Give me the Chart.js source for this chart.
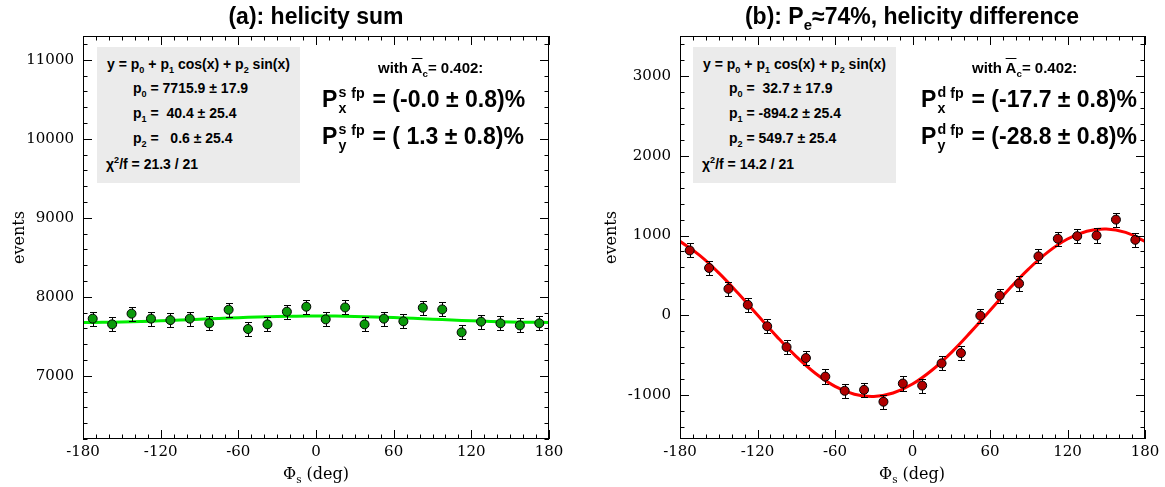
<!DOCTYPE html>
<html>
<head>
<meta charset="utf-8">
<script src="https://cdn.jsdelivr.net/npm/chart.js@4.4.1/dist/chart.umd.min.js"></script>
<style>
  body { margin: 0; background: #fff; }
  #wrap { position: relative; width: 1165px; height: 487px; overflow: hidden; background: #fff; }
  canvas { position: absolute; top: 0; }
  .t { position: absolute; font-family: "Liberation Sans", Arial, sans-serif; font-weight: bold; color: #000; white-space: pre; line-height: 1; }
  .title { font-size: 23px; text-align: center; width: 500px; }
  .box { position: absolute; background: #ebebeb; }
  .sm { font-size: 14px; }
  .mid { font-size: 15px; }
  .big { font-size: 23px; }
  .ax { position: absolute; font-family: "DejaVu Serif", serif; font-size: 16px; text-align: center; width: 200px; line-height: 1; white-space: pre; }
  sub, sup { font-size: 65%; line-height: 0; }
  .ov { text-decoration: overline; }
  .ss { display: inline-block; position: relative; width: 0.45em; height: 1em; vertical-align: top; }
  .ss i { position: absolute; left: 0.08em; font-style: normal; font-size: 0.62em; }
  .ss .u { top: -0.22em; }
  .ss .d { top: 0.9em; }
  .fp { font-size: 0.62em; position: relative; top: -0.65em; margin-left: 0.25em; margin-right: 0.1em; }
</style>
</head>
<body>
<div id="wrap">
  <canvas id="sumChart" width="582" height="487" style="left:0"></canvas>
  <canvas id="diffChart" width="583" height="487" style="left:582px"></canvas>

  <!-- (a) 左圖文字 -->
  <div class="t title" style="left:66px;top:5px">(a): helicity sum</div>
  <div class="box" style="left:97px;top:47px;width:203px;height:136px"></div>
  <div class="t sm" style="left:97px;top:57px;width:203px;text-align:center">y = p<sub>0</sub> + p<sub>1</sub> cos(x) + p<sub>2</sub> sin(x)</div>
  <div class="t sm" style="left:133px;top:81px">p<sub>0</sub> = 7715.9 ± 17.9</div>
  <div class="t sm" style="left:133px;top:106px">p<sub>1</sub> =  40.4 ± 25.4</div>
  <div class="t sm" style="left:133px;top:131px">p<sub>2</sub> =   0.6 ± 25.4</div>
  <div class="t sm" style="left:106px;top:157px">χ<sup>2</sup>/f = 21.3 / 21</div>
  <div class="t mid" style="left:378px;top:60px">with <span class="ov">A</span><sub>c</sub>= 0.402:</div>
  <div class="t big" style="left:322px;top:88px">P<span class="ss"><i class="u">s</i><i class="d">x</i></span><span class="fp">fp</span> = (-0.0 ± 0.8)%</div>
  <div class="t big" style="left:322px;top:125px">P<span class="ss"><i class="u">s</i><i class="d">y</i></span><span class="fp">fp</span> = ( 1.3 ± 0.8)%</div>
  <div class="ax" style="left:216px;top:466px">Φ<sub>s</sub> (deg)</div>

  <!-- (b) 右圖文字 -->
  <div class="t title" style="left:662px;top:5px">(b): P<sub>e</sub>≈74%, helicity difference</div>
  <div class="box" style="left:693px;top:47px;width:203px;height:136px"></div>
  <div class="t sm" style="left:693px;top:57px;width:203px;text-align:center">y = p<sub>0</sub> + p<sub>1</sub> cos(x) + p<sub>2</sub> sin(x)</div>
  <div class="t sm" style="left:729px;top:81px">p<sub>0</sub> =  32.7 ± 17.9</div>
  <div class="t sm" style="left:729px;top:106px">p<sub>1</sub> = -894.2 ± 25.4</div>
  <div class="t sm" style="left:729px;top:131px">p<sub>2</sub> = 549.7 ± 25.4</div>
  <div class="t sm" style="left:702px;top:157px">χ<sup>2</sup>/f = 14.2 / 21</div>
  <div class="t mid" style="left:972px;top:60px">with <span class="ov">A</span><sub>c</sub>= 0.402:</div>
  <div class="t big" style="left:921px;top:88px">P<span class="ss"><i class="u">d</i><i class="d">x</i></span><span class="fp">fp</span> = (-17.7 ± 0.8)%</div>
  <div class="t big" style="left:921px;top:125px">P<span class="ss"><i class="u">d</i><i class="d">y</i></span><span class="fp">fp</span> = (-28.8 ± 0.8)%</div>
  <div class="ax" style="left:812px;top:466px">Φ<sub>s</sub> (deg)</div>
</div>

<script>
// Φs 分箱中心 (deg)
const phiBins = [-172.5, -157.5, -142.5, -127.5, -112.5, -97.5, -82.5, -67.5, -52.5, -37.5, -22.5, -7.5,
                 7.5, 22.5, 37.5, 52.5, 67.5, 82.5, 97.5, 112.5, 127.5, 142.5, 157.5, 172.5];

// (a) helicity sum
const sumCounts = [7723, 7651, 7786, 7723, 7705, 7723, 7664, 7836, 7592, 7651, 7811, 7874,
                   7714, 7865, 7651, 7723, 7689, 7861, 7840, 7550, 7685, 7664, 7638, 7664];
const sumErrors = [88, 87, 88, 88, 88, 88, 88, 89, 87, 87, 88, 89,
                   88, 89, 87, 88, 88, 89, 89, 87, 88, 88, 87, 88];

// (b) helicity difference
const diffCounts = [813, 593, 332, 131, -137, -398, -535, -768, -946, -934, -1083, -855,
                    -880, -602, -473, -4, 247, 398, 739, 959, 992, 1000, 1199, 946];
const diffErrors = [88, 87, 88, 88, 88, 88, 88, 89, 87, 87, 88, 89,
                    88, 89, 87, 88, 88, 89, 89, 87, 88, 88, 87, 88];

// 擬合曲線取樣點
const fitPhi = [-180, -165, -150, -135, -120, -105, -90, -75, -60, -45, -30, -15, 0,
                15, 30, 45, 60, 75, 90, 105, 120, 135, 150, 165, 180];
const fitSum = [7675.5, 7676.7, 7680.6, 7686.9, 7695.2, 7704.9, 7715.3, 7725.8, 7735.6, 7744.0, 7750.6, 7754.8, 7756.3,
                7755.1, 7751.2, 7744.9, 7736.6, 7726.9, 7716.5, 7706.0, 7696.2, 7687.8, 7681.2, 7677.0, 7675.5];
const fitDiff = [926.9, 754.1, 532.2, 276.3, 3.8, -266.9, -517.0, -729.7, -890.4, -988.3, -1016.6, -973.3, -861.5,
                 -688.7, -466.8, -210.9, 61.6, 332.3, 582.4, 795.1, 955.8, 1053.7, 1082.0, 1038.7, 926.9];

// 刻度
const xTicks = [-180, -120, -60, 0, 60, 120, 180];
const sumYTicks = [7000, 8000, 9000, 10000, 11000];
const diffYTicks = [-1000, 0, 1000, 2000, 3000];

// 誤差棒
const errorBars = {
    id: 'errorBars',
    beforeDatasetDraw(chart, args) {
        const ds = chart.data.datasets[args.index];
        if (!ds.errors) return;
        const y = chart.scales.y;
        const ctx = chart.ctx;
        ctx.save();
        ctx.strokeStyle = '#000';
        ctx.lineWidth = 1;
        ctx.beginPath();
        args.meta.data.forEach((pt, i) => {
            const v = ds.data[i].y, e = ds.errors[i];
            const top = Math.round(y.getPixelForValue(v + e)) + 0.5;
            const bot = Math.round(y.getPixelForValue(v - e)) + 0.5;
            const px = Math.round(pt.x) + 0.5;
            ctx.moveTo(px, top); ctx.lineTo(px, bot);
            ctx.moveTo(px - 3.5, top); ctx.lineTo(px + 3.5, top);
            ctx.moveTo(px - 3.5, bot); ctx.lineTo(px + 3.5, bot);
        });
        ctx.stroke();
        ctx.restore();
    }
};

// ROOT 風格外框與內向刻度
const frameTicks = {
    id: 'frameTicks',
    afterDraw(chart) {
        const { ctx, chartArea: a, scales: { x, y } } = chart;
        ctx.save();
        ctx.strokeStyle = '#000';
        ctx.lineWidth = 1;
        ctx.beginPath();
        for (let v = x.min; v <= x.max; v += 10) {
            const px = Math.round(x.getPixelForValue(v)) + 0.5;
            const len = v % 60 === 0 ? 9 : 4.5;
            ctx.moveTo(px, a.bottom); ctx.lineTo(px, a.bottom - len);
            ctx.moveTo(px, a.top); ctx.lineTo(px, a.top + len);
        }
        for (let v = Math.ceil(y.min / 200) * 200; v <= y.max; v += 200) {
            const py = Math.round(y.getPixelForValue(v)) + 0.5;
            const len = v % 1000 === 0 ? 9 : 4.5;
            ctx.moveTo(a.left, py); ctx.lineTo(a.left + len, py);
            ctx.moveTo(a.right, py); ctx.lineTo(a.right - len, py);
        }
        ctx.stroke();
        ctx.strokeRect(Math.round(a.left) + 0.5, Math.round(a.top) + 0.5,
                       Math.round(a.width) - 1, Math.round(a.height) - 1);
        ctx.restore();
    }
};

function makeChart(id, counts, errors, fitVals, pointColor, lineColor, yMin, yMax, yTicks, pad, yWidth) {
    const ctx = document.getElementById(id).getContext('2d');
    const tickFont = { family: 'DejaVu Serif', size: 15 };
    return new Chart(ctx, {
        type: 'scatter',
        data: {
            datasets: [{
                data: phiBins.map((p, i) => ({ x: p, y: counts[i] })),
                errors: errors,
                backgroundColor: pointColor,
                borderColor: '#000',
                borderWidth: 1,
                pointRadius: 4.5,
                pointHoverRadius: 4.5
            }, {
                type: 'line',
                data: fitPhi.map((p, i) => ({ x: p, y: fitVals[i] })),
                borderColor: lineColor,
                borderWidth: 3,
                pointRadius: 0,
                fill: false,
                tension: 0.4
            }]
        },
        options: {
            responsive: false,
            animation: false,
            events: [],
            layout: { padding: pad },
            plugins: { legend: { display: false }, tooltip: { enabled: false } },
            scales: {
                x: {
                    type: 'linear', min: -180, max: 180,
                    grid: { display: false, drawTicks: false },
                    border: { display: false },
                    ticks: { color: '#000', font: tickFont, padding: 4, maxRotation: 0, callback: v => v },
                    afterBuildTicks: s => { s.ticks = xTicks.map(v => ({ value: v })); },
                    afterFit: s => { s.height = 48; }
                },
                y: {
                    min: yMin, max: yMax,
                    grid: { display: false, drawTicks: false },
                    border: { display: false },
                    ticks: { color: '#000', font: tickFont, padding: 9, callback: v => v },
                    afterBuildTicks: s => { s.ticks = yTicks.map(v => ({ value: v })); },
                    afterFit: s => { s.width = yWidth; },
                    title: { display: true, text: 'events', color: '#000',
                             font: { family: 'DejaVu Serif', size: 16 }, padding: { top: 10, bottom: 0 } }
                }
            }
        },
        plugins: [errorBars, frameTicks]
    });
}

makeChart('sumChart', sumCounts, sumErrors, fitSum, '#0b990b', '#00ee00',
          6200, 11300, sumYTicks, { left: 0, top: 36, right: 33, bottom: 0 }, 83);
makeChart('diffChart', diffCounts, diffErrors, fitDiff, '#b00000', '#ff0000',
          -1550, 3500, diffYTicks, { left: 10, top: 36, right: 20, bottom: 0 }, 88);
</script>
</body>
</html>
